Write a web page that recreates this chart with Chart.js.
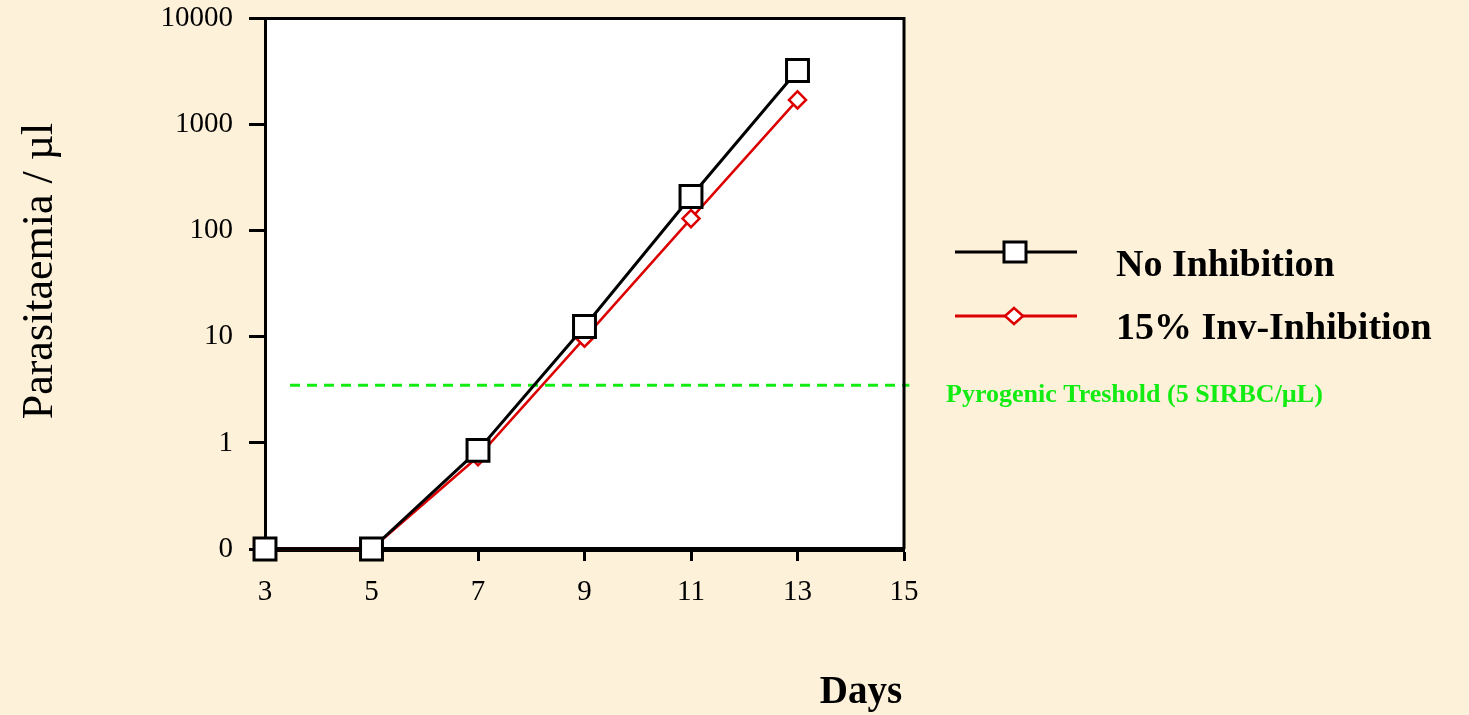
<!DOCTYPE html>
<html>
<head>
<meta charset="utf-8">
<script src="https://cdn.jsdelivr.net/npm/chart.js@4/dist/chart.umd.min.js"></script>
<style>
    html, body { margin: 0; padding: 0; background: #fdf1d9; }
    #wrap { width: 1469px; height: 715px; position: relative; }
</style>
</head>
<body>
<div id="wrap"><canvas id="parasiteChart"></canvas></div>
<script>
// data
const days = [3, 5, 7, 9, 11, 13];
const noInhibition = [0.1, 0.1, 0.85, 12.5, 210, 3240];
const invInhibition = [0.1, 0.1, 0.74, 9.7, 130, 1710];

const thresholdDays = [3.47, 15.1];
const thresholdValue = 3.5;

const yTickValues = [0.1, 1, 10, 100, 1000, 10000];
const yTickLabels = ['0', '1', '10', '100', '1000', '10000'];
const xTickValues = [3, 5, 7, 9, 11, 13, 15];

const seriesNames = ['No Inhibition', '15% Inv-Inhibition'];
const thresholdLabel = 'Pyrogenic Treshold (5 SIRBC/\u00B5L)';

const serif = "'Liberation Serif', 'Times New Roman', serif";
const green = '#12ec12';

function toPoints(xs, ys) {
    return xs.map((x, i) => ({ x: x, y: ys[i] }));
}

// white plot area
const plotBackground = {
    id: 'plotBackground',
    beforeDraw(chart) {
        const { ctx, chartArea: a } = chart;
        ctx.save();
        ctx.fillStyle = '#ffffff';
        ctx.fillRect(a.left, a.top, a.right - a.left, a.bottom - a.top);
        ctx.restore();
    }
};

// frame top/right, custom legend, titles
const decorations = {
    id: 'decorations',
    afterDraw(chart) {
        const { ctx, chartArea: a } = chart;
        ctx.save();
        ctx.strokeStyle = '#000';
        ctx.lineWidth = 3;
        ctx.beginPath();
        ctx.moveTo(a.left, a.top);
        ctx.lineTo(a.right, a.top);
        ctx.lineTo(a.right, a.bottom);
        ctx.stroke();

        // legend
        ctx.lineWidth = 3;
        ctx.strokeStyle = '#000';
        ctx.beginPath();
        ctx.moveTo(955, 252);
        ctx.lineTo(1077, 252);
        ctx.stroke();
        ctx.fillStyle = '#fff';
        ctx.fillRect(1004, 242, 22, 20);
        ctx.strokeRect(1004, 242, 22, 20);

        ctx.strokeStyle = '#dd0000';
        ctx.lineWidth = 3;
        ctx.beginPath();
        ctx.moveTo(955, 316);
        ctx.lineTo(1077, 316);
        ctx.stroke();
        ctx.lineWidth = 2.5;
        ctx.beginPath();
        ctx.moveTo(1014 - 9, 316);
        ctx.lineTo(1014, 316 - 8);
        ctx.lineTo(1014 + 9, 316);
        ctx.lineTo(1014, 316 + 8);
        ctx.closePath();
        ctx.fillStyle = '#fff';
        ctx.fill();
        ctx.stroke();

        ctx.fillStyle = '#000';
        ctx.font = "bold 38px " + serif;
        ctx.textAlign = 'left';
        ctx.textBaseline = 'alphabetic';
        ctx.fillText(seriesNames[0], 1116, 276);
        ctx.fillText(seriesNames[1], 1116, 339);

        ctx.fillStyle = green;
        ctx.font = "bold 26px " + serif;
        ctx.fillText(thresholdLabel, 946, 402);

        // axis titles
        ctx.fillStyle = '#000';
        ctx.font = "bold 39px " + serif;
        ctx.textAlign = 'center';
        ctx.fillText('Days', 861, 703);

        ctx.font = "44px " + serif;
        ctx.translate(52, 271);
        ctx.rotate(-Math.PI / 2);
        ctx.fillText('Parasitaemia / \u00B5l', 0, 0);
        ctx.restore();
    }
};

const ctx = document.getElementById('parasiteChart').getContext('2d');

new Chart(ctx, {
    type: 'scatter',
    data: {
        datasets: [
            {
                label: seriesNames[0],
                data: toPoints(days, noInhibition),
                showLine: true,
                borderColor: '#000000',
                borderWidth: 3,
                pointStyle: 'rect',
                pointRadius: 15.5,
                pointBorderWidth: 3,
                pointBackgroundColor: '#ffffff',
                pointBorderColor: '#000000',
                clip: false
            },
            {
                label: seriesNames[1],
                data: toPoints(days, invInhibition),
                showLine: true,
                borderColor: '#dd0000',
                borderWidth: 2.5,
                pointStyle: 'rectRot',
                pointRadius: 8.5,
                pointBorderWidth: 2.5,
                pointBackgroundColor: '#ffffff',
                pointBorderColor: '#dd0000',
                clip: false
            },
            {
                label: 'threshold',
                data: thresholdDays.map(d => ({ x: d, y: thresholdValue })),
                showLine: true,
                borderColor: green,
                borderWidth: 3,
                borderDash: [10, 7],
                pointRadius: 0,
                clip: false
            }
        ]
    },
    options: {
        responsive: true,
        maintainAspectRatio: false,
        animation: false,
        layout: {
            padding: { top: 13, right: 565, left: 0, bottom: 0 }
        },
        plugins: {
            legend: { display: false },
            tooltip: { enabled: false }
        },
        scales: {
            x: {
                type: 'linear',
                min: 3,
                max: 15,
                afterFit(scale) {
                    scale.height = 166;
                    scale.paddingLeft = 0;
                    scale.paddingRight = 0;
                },
                afterBuildTicks(scale) {
                    scale.ticks = xTickValues.map(v => ({ value: v }));
                },
                ticks: {
                    color: '#000',
                    padding: 14,
                    maxRotation: 0,
                    font: { family: serif, size: 29 },
                    callback: v => String(v)
                },
                grid: {
                    drawOnChartArea: false,
                    tickLength: 12,
                    tickWidth: 3,
                    tickColor: '#000'
                },
                border: { display: true, color: '#000', width: 5 }
            },
            y: {
                type: 'logarithmic',
                min: 0.1,
                max: 10000,
                afterFit(scale) {
                    scale.width = 265;
                    scale.paddingTop = 0;
                    scale.paddingBottom = 0;
                },
                afterBuildTicks(scale) {
                    scale.ticks = yTickValues.map(v => ({ value: v }));
                },
                ticks: {
                    color: '#000',
                    padding: 16,
                    font: { family: serif, size: 29 },
                    callback: function(v) {
                        const i = yTickValues.indexOf(v);
                        return i >= 0 ? yTickLabels[i] : '';
                    }
                },
                grid: {
                    drawOnChartArea: false,
                    tickLength: 16,
                    tickWidth: 3,
                    tickColor: '#000'
                },
                border: { display: true, color: '#000', width: 3 }
            }
        }
    },
    plugins: [plotBackground, decorations]
});
</script>
</body>
</html>
